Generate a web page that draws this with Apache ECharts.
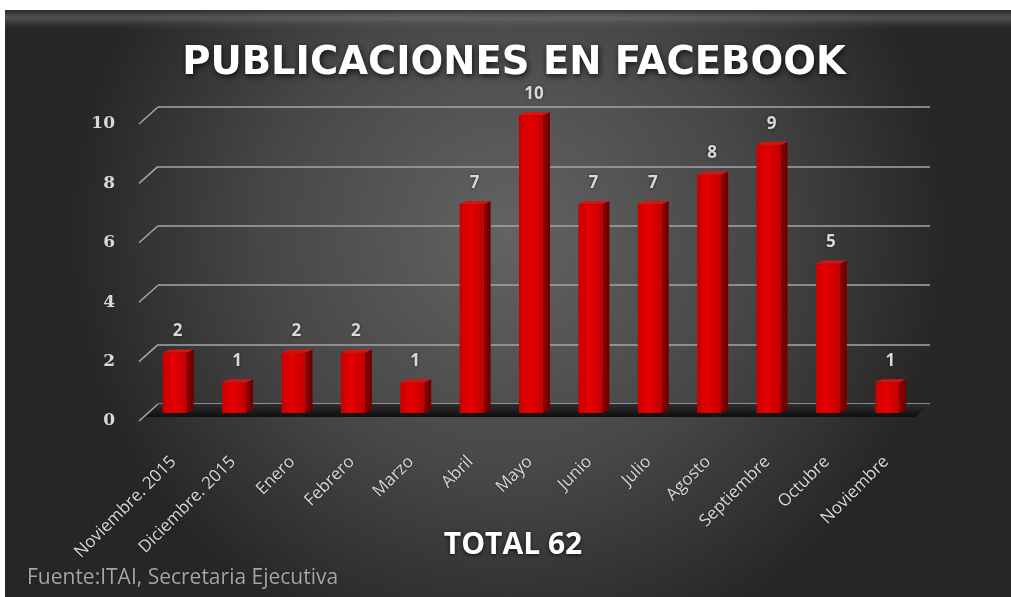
<!DOCTYPE html>
<html>
<head>
<meta charset="utf-8">
<script src="https://cdn.jsdelivr.net/npm/echarts@6/dist/echarts.min.js"></script>
<style>
html,body{margin:0;padding:0;background:#ffffff;}
#chart{width:1011px;height:597px;}
</style>
</head>
<body>
<div id="chart"></div>
<script>
const categories = ['Noviembre. 2015','Diciembre. 2015','Enero','Febrero','Marzo','Abril','Mayo','Junio','Julio','Agosto','Septiembre','Octubre','Noviembre'];
const values = [2,1,2,2,1,7,10,7,7,8,9,5,1];
const yTicks = [0,2,4,6,8,10];
const titleText = 'PUBLICACIONES EN FACEBOOK';
const sourceText = 'Fuente:ITAI, Secretaria Ejecutiva';
const total = values.reduce((a,b)=>a+b,0);

const FONT = '"Open Sans", Lato, sans-serif';
const TFONT = '"DejaVu Sans", "Open Sans", sans-serif';
const SERIF = '"DejaVu Serif", "Liberation Serif", serif';
const chart = echarts.init(document.getElementById('chart'));

function renderBar(params, api){
  const idx = api.value(0), v = api.value(1);
  const p0 = api.coord([idx, 0]);
  const p1 = api.coord([idx, v]);
  const w = 24, dx = 7, dyTop = 3;
  const cx = p0[0] - 13;
  const x = cx - w/2;
  const bottom = p0[1] + 9;
  const top = p1[1] + 8;
  return {
    type:'group',
    children:[
      {type:'polygon', shape:{points:[[x+w,top],[x+w+dx,top-dyTop],[x+w+dx,bottom-dyTop],[x+w,bottom]]},
        style:{fill:new echarts.graphic.LinearGradient(0,0,1,0,[{offset:0,color:'#8e0000'},{offset:1,color:'#6a0000'}])}},
      {type:'rect', shape:{x:x,y:top,width:w,height:bottom-top},
        style:{fill:new echarts.graphic.LinearGradient(0,0,1,0,[{offset:0,color:'#c80000'},{offset:0.45,color:'#e60000'},{offset:1,color:'#c00000'}])}},
      {type:'polygon', shape:{points:[[x,top],[x+dx,top-dyTop],[x+w+dx,top-dyTop],[x+w,top]]},
        style:{fill:'#d51515'}},
      {type:'text', style:{text:String(v), x:cx+3, y:top-21, align:'center', verticalAlign:'middle',
        fill:'#d9d9d9', font:'bold 17px '+FONT, textShadowColor:'rgba(0,0,0,0.6)', textShadowBlur:3}}
    ]
  };
}

function renderFrame(params, api){
  const cs = params.coordSys;
  const v = api.value(0);
  const y = api.coord([0, v])[1];
  const children = [
    {type:'line', shape:{x1:cs.x, y1:y, x2:cs.x-19, y2:y+17}, style:{stroke:'#a6a6a6', lineWidth:1.5}}
  ];
  if (v === 0){
    children.unshift({type:'polygon', shape:{points:[[cs.x,y],[cs.x+cs.width,y],[cs.x+cs.width-15,y+13],[cs.x-12,y+13]]},
      style:{fill:new echarts.graphic.LinearGradient(0,0,0,1,[{offset:0,color:'#2e2e2e'},{offset:1,color:'#0e0e0e'}])}});
  }
  return {type:'group', children};
}

chart.setOption({
  animation:false,
  graphic:[
    {type:'rect', z:-10, shape:{x:5,y:10,width:1006,height:587},
      style:{fill:new echarts.graphic.RadialGradient(0.5,0.38,0.75,[{offset:0,color:'#636363'},{offset:0.55,color:'#474747'},{offset:1,color:'#262626'}])}},
    {type:'rect', z:-9, shape:{x:5,y:10,width:1006,height:20},
      style:{fill:new echarts.graphic.LinearGradient(0,0,0,1,[{offset:0,color:'rgba(40,40,40,0.6)'},{offset:0.4,color:'rgba(130,130,130,0.45)'},{offset:1,color:'rgba(80,80,80,0)'}])}},
    {type:'text', x:514, y:64, style:{text:titleText, align:'center', verticalAlign:'middle',
      fill:'#ffffff', font:'bold 38.5px '+TFONT, textShadowColor:'rgba(0,0,0,0.8)', textShadowBlur:6, textShadowOffsetX:1, textShadowOffsetY:2}},
    {type:'text', x:513, y:545, style:{text:'TOTAL '+total, align:'center', verticalAlign:'middle',
      fill:'#ffffff', font:'bold 30px '+FONT, textShadowColor:'rgba(0,0,0,0.7)', textShadowBlur:4, textShadowOffsetY:1}},
    {type:'text', x:27, y:578, style:{text:sourceText, align:'left', verticalAlign:'middle',
      fill:'#a6a6a6', font:'21px '+FONT, textShadowColor:'rgba(0,0,0,0.5)', textShadowBlur:2}}
  ],
  grid:{left:158, right:81, top:107, bottom:193},
  xAxis:{
    type:'category', data:categories,
    axisLine:{show:false}, axisTick:{show:false},
    axisLabel:{rotate:45, margin:41, padding:[0,20,0,0], color:'#d9d9d9', fontFamily:FONT, fontSize:17, interval:0,
      textShadowColor:'rgba(0,0,0,0.5)', textShadowBlur:2}
  },
  yAxis:{
    type:'value', min:0, max:10, interval:2,
    axisLine:{show:false}, axisTick:{show:false},
    splitLine:{lineStyle:{color:'#a6a6a6', width:1.5}},
    axisLabel:{margin:43, showMinLabel:true, showMaxLabel:true, hideOverlap:false,
      color:'#d9d9d9', fontFamily:SERIF, fontWeight:'bold', fontSize:17,
      verticalAlign:'top', lineHeight:18, padding:[8,0,0,0]}
  },
  series:[
    {type:'custom', renderItem:renderFrame, data:yTicks.map(t=>[t]), encode:{y:0}, z:1, silent:true},
    {type:'custom', renderItem:renderBar, data:values.map((v,i)=>[i,v]), encode:{x:0,y:1}, z:3}
  ]
});
</script>
</body>
</html>
